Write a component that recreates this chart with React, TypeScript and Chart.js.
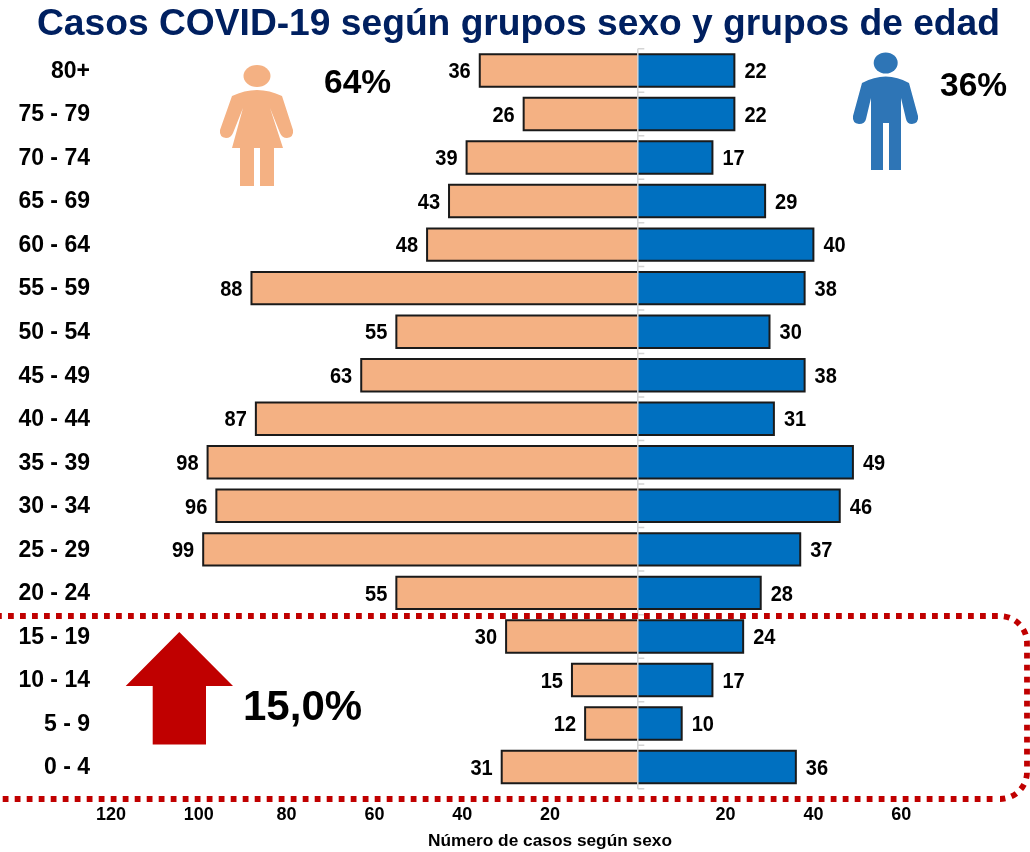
import React, { useEffect, useRef } from "react";
import { Chart, registerables } from "chart.js";

Chart.register(...registerables);

const ageGroups = ["80+", "75 - 79", "70 - 74", "65 - 69", "60 - 64", "55 - 59", "50 - 54", "45 - 49", "40 - 44", "35 - 39", "30 - 34", "25 - 29", "20 - 24", "15 - 19", "10 - 14", "5 - 9", "0 - 4"];
const womenCases = [36, 26, 39, 43, 48, 88, 55, 63, 87, 98, 96, 99, 55, 30, 15, 12, 31];
const menCases = [22, 22, 17, 29, 40, 38, 30, 38, 31, 49, 46, 37, 28, 24, 17, 10, 36];
const hiddenTicks = [0, 80];

const FONT = '"Liberation Sans", Arial, sans-serif';
const PEACH = "#F4B183";
const BLUE = "#0070C0";
const MAN = "#2E75B6";
const RED = "#C00000";

function poly(ctx: CanvasRenderingContext2D, pts: number[][]) {
  ctx.beginPath();
  pts.forEach(([x, y], i) => (i ? ctx.lineTo(x, y) : ctx.moveTo(x, y)));
  ctx.closePath();
  ctx.fill();
}

function drawWoman(ctx: CanvasRenderingContext2D) {
  ctx.fillStyle = PEACH;
  ctx.beginPath();
  ctx.ellipse(257, 76, 13.5, 11, 0, 0, Math.PI * 2);
  ctx.fill();
  ctx.beginPath();
  ctx.moveTo(232, 96);
  ctx.quadraticCurveTo(257, 84, 282, 96);
  ctx.lineTo(293, 130);
  ctx.quadraticCurveTo(294, 137, 287, 138);
  ctx.quadraticCurveTo(282, 138, 280, 133);
  ctx.lineTo(270, 108);
  ctx.lineTo(283, 148);
  ctx.lineTo(274, 148);
  ctx.lineTo(274, 186);
  ctx.lineTo(260, 186);
  ctx.lineTo(260, 148);
  ctx.lineTo(254, 148);
  ctx.lineTo(254, 186);
  ctx.lineTo(240, 186);
  ctx.lineTo(240, 148);
  ctx.lineTo(232, 148);
  ctx.lineTo(243, 108);
  ctx.lineTo(233, 133);
  ctx.quadraticCurveTo(231, 138, 226, 138);
  ctx.quadraticCurveTo(219, 137, 220, 130);
  ctx.closePath();
  ctx.fill();
}

function drawMan(ctx: CanvasRenderingContext2D) {
  ctx.fillStyle = MAN;
  ctx.beginPath();
  ctx.ellipse(885.7, 63, 12, 10.5, 0, 0, Math.PI * 2);
  ctx.fill();
  ctx.beginPath();
  ctx.moveTo(862, 83);
  ctx.quadraticCurveTo(886, 70, 909, 83);
  ctx.lineTo(918, 116);
  ctx.quadraticCurveTo(919, 123, 912, 124);
  ctx.quadraticCurveTo(907, 124, 906, 119);
  ctx.lineTo(901, 98);
  ctx.lineTo(901, 170);
  ctx.lineTo(889, 170);
  ctx.lineTo(889, 123);
  ctx.lineTo(883, 123);
  ctx.lineTo(883, 170);
  ctx.lineTo(871, 170);
  ctx.lineTo(871, 98);
  ctx.lineTo(866, 119);
  ctx.quadraticCurveTo(865, 124, 859, 124);
  ctx.quadraticCurveTo(852, 123, 853, 116);
  ctx.closePath();
  ctx.fill();
}

const overlay = {
  id: "overlay",
  afterDatasetsDraw(chart: any) {
    const { ctx, scales } = chart;
    const zeroX = scales.x.getPixelForValue(0);
    const y = scales.y;
    ctx.save();

    // bar outlines: three sides, centred on the bar edge
    ctx.strokeStyle = "#1a1a1a";
    ctx.lineWidth = 2;
    ctx.lineJoin = "miter";
    chart.data.datasets.forEach((_: any, d: number) => {
      chart.getDatasetMeta(d).data.forEach((bar: any) => {
        const top = bar.y - bar.height / 2;
        const bottom = bar.y + bar.height / 2;
        ctx.beginPath();
        ctx.moveTo(zeroX, top);
        ctx.lineTo(bar.x, top);
        ctx.lineTo(bar.x, bottom);
        ctx.lineTo(zeroX, bottom);
        ctx.stroke();
      });
    });

    // centre axis line and its tick marks
    ctx.strokeStyle = "#D4D4D4";
    ctx.lineWidth = 1.5;
    ctx.beginPath();
    ctx.moveTo(zeroX, chart.chartArea.top);
    ctx.lineTo(zeroX, chart.chartArea.bottom);
    for (let i = 0; i <= ageGroups.length; i++) {
      const py = y.getPixelForValue(i - 0.5);
      ctx.moveTo(zeroX, py);
      ctx.lineTo(zeroX + 6.5, py);
    }
    ctx.stroke();

    // value labels, slightly condensed
    ctx.fillStyle = "#000";
    ctx.font = `bold 22.5px ${FONT}`;
    ctx.textBaseline = "middle";
    chart.data.datasets.forEach((ds: any, d: number) => {
      chart.getDatasetMeta(d).data.forEach((bar: any, i: number) => {
        const v = Math.abs(ds.data[i]);
        ctx.save();
        ctx.translate(bar.x + (d === 0 ? -9 : 10), bar.y + 1.5);
        ctx.scale(0.89, 1);
        ctx.textAlign = d === 0 ? "right" : "left";
        ctx.fillText(String(v), 0, 0);
        ctx.restore();
      });
    });

    // title
    ctx.fillStyle = "#002060";
    ctx.font = `bold 37.2px ${FONT}`;
    ctx.textAlign = "center";
    ctx.textBaseline = "alphabetic";
    ctx.fillText("Casos COVID-19 según grupos sexo y grupos de edad", 518.5, 35);

    // figures
    drawWoman(ctx);
    drawMan(ctx);

    // percentages
    ctx.fillStyle = "#000";
    ctx.font = `bold 33.5px ${FONT}`;
    ctx.textAlign = "left";
    ctx.fillText("64%", 324, 93);
    ctx.fillText("36%", 940, 96);
    ctx.font = `bold 42px ${FONT}`;
    ctx.fillText("15,0%", 243, 720);

    // arrow
    ctx.fillStyle = RED;
    poly(ctx, [[179.3, 632], [233, 686], [206, 686], [206, 744.5], [152.7, 744.5], [152.7, 686], [125.7, 686]]);

    // dotted rounded frame
    ctx.strokeStyle = RED;
    ctx.lineWidth = 5.8;
    ctx.lineCap = "butt";
    ctx.setLineDash([5.8, 6.2]);
    ctx.beginPath();
    ctx.moveTo(-4, 616);
    ctx.lineTo(1000, 616);
    ctx.arcTo(1027, 616, 1027, 643, 27);
    ctx.lineTo(1027, 772);
    ctx.arcTo(1027, 799, 1000, 799, 27);
    ctx.stroke();
    ctx.beginPath();
    ctx.moveTo(-9.3, 799);
    ctx.lineTo(995, 799);
    ctx.stroke();
    ctx.restore();
  },
};

export default function App() {
  const ref = useRef<HTMLCanvasElement>(null);
  useEffect(() => {
    const chart = new Chart(ref.current!, {
      type: "bar",
      data: {
        labels: ageGroups,
        datasets: [
          { label: "Mujeres", data: womenCases.map((v) => -v), backgroundColor: PEACH, borderWidth: 0 },
          { label: "Hombres", data: menCases, backgroundColor: BLUE, borderWidth: 0 },
        ],
      },
      options: {
        indexAxis: "y",
        responsive: false,
        animation: false,
        layout: { padding: { top: 48.7, right: 41, bottom: 0, left: 0 } },
        plugins: { legend: { display: false }, tooltip: { enabled: false } },
        datasets: { bar: { categoryPercentage: 0.745, barPercentage: 1 } },
        scales: {
          x: {
            stacked: true,
            min: -120,
            max: 80,
            afterFit: (s: any) => { s.height = 63.2; },
            border: { display: false },
            grid: { display: false },
            ticks: {
              stepSize: 20,
              maxRotation: 0,
              padding: 7,
              color: "#000",
              font: { family: FONT, weight: "bold", size: 18 },
              callback: (v: any) => (hiddenTicks.includes(Number(v)) ? "" : String(Math.abs(Number(v)))),
            },
            title: {
              display: true,
              text: "Número de casos según sexo",
              color: "#000",
              font: { family: FONT, weight: "bold", size: 17.3 },
              padding: { top: 0, bottom: 0 },
            },
          },
          y: {
            stacked: true,
            afterFit: (s: any) => { s.width = 111; },
            border: { display: false },
            grid: { display: false },
            ticks: {
              padding: 13,
              autoSkip: false,
              labelOffset: 1,
              color: "#000",
              font: { family: FONT, weight: "bold", size: 23 },
            },
          },
        },
      },
      plugins: [overlay],
    } as any);
    return () => chart.destroy();
  }, []);
  return (
    <canvas
      ref={ref}
      width={1030}
      height={852}
      style={{ position: "absolute", left: 0, top: 0, display: "block" }}
    />
  );
}
